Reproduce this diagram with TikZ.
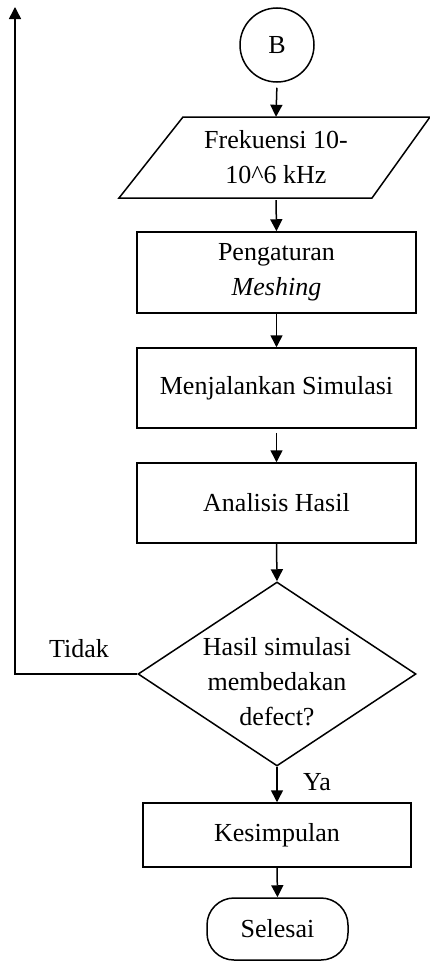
\documentclass[tikz,border=0pt]{standalone}
\usepackage{fontspec}
\setmainfont{Liberation Serif}
\usetikzlibrary{arrows.meta,shapes.geometric}
\begin{document}
\begin{tikzpicture}[x=1pt,y=-1pt,
  every node/.style={font=\fontsize{26}{35}\selectfont, align=center},
  line/.style={line width=1.5pt},
  arr/.style={line width=1.5pt,-{Triangle[length=12pt,width=12pt]}},
  procbox/.style={draw,line width=1.5pt,rectangle,inner sep=0pt},
  lbl/.style={inner sep=0pt}]
\useasboundingbox (0,0) rectangle (430,961);
% connector circle
\node[draw,line width=1.5pt,circle,minimum size=74pt,inner sep=0pt] (B) at (277,45) {B};
% parallelogram (input)
\draw[line] (183,117) -- (430,117) -- (372,198) -- (119,198) -- cycle;
\node[lbl,minimum width=250pt,minimum height=81pt] (inp) at (276,157.5) {Frekuensi 10-\\10\^{}6 kHz};
% process boxes
\node[procbox,minimum width=279pt,minimum height=81pt] (mesh) at (276.5,272.5) {Pengaturan\\\textit{Meshing}};
\node[procbox,minimum width=279pt,minimum height=80pt] (sim) at (276.5,388) {Menjalankan Simulasi};
\node[procbox,minimum width=279pt,minimum height=80pt] (ana) at (276.5,503) {Analisis Hasil};
% decision
\node[draw,line width=1.5pt,diamond,minimum width=278pt,minimum height=184pt,inner sep=0pt] (dec) at (277,674) {};
\node[lbl] (dectext) at (277,682) {Hasil simulasi\\membedakan\\defect?};
% conclusion and end
\node[procbox,minimum width=268pt,minimum height=64pt] (kes) at (277,835) {Kesimpulan};
\node[draw,line width=1.5pt,rectangle,rounded corners=27pt,minimum width=141pt,minimum height=62pt,inner sep=0pt] (end) at (277.5,929) {Selesai};
% free end of feedback line
\coordinate (top) at (15,7);
\coordinate (corner) at (15,674);
% arrows
\draw[arr,shorten <=5pt] (B.south) -- (inp.north);
\draw[arr,shorten <=2pt] (inp.south) -- (mesh.north);
\draw[arr] (mesh.south) -- (sim.north);
\draw[arr,shorten <=4pt] (sim.south) -- (ana.north);
\draw[arr] (ana.south) -- (dec.north);
\draw[arr] (dec.south) -- (kes.north);
\draw[arr] (kes.south) -- (end.north);
\draw[arr] (dec.west) -- (corner) -- (top);
% labels
\node[lbl] (tidak) at (79,649) {Tidak};
\node[lbl] (ya) at (317,782) {Ya};
\end{tikzpicture}
\end{document}
